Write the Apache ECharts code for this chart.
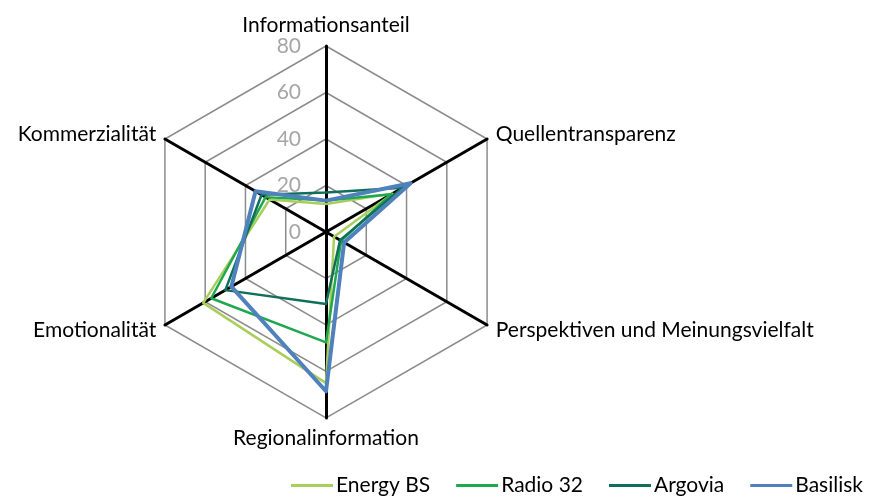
<!DOCTYPE html>
<html>
<head>
<meta charset="utf-8">
<script src="https://cdn.jsdelivr.net/npm/echarts@6/dist/echarts.min.js"></script>
<style>
  html, body { margin: 0; padding: 0; background: #fff; }
  #chart { width: 870px; height: 499px; }
</style>
</head>
<body>
<div id="chart"></div>
<script>
  // indicators in counterclockwise order starting at the top
  const indicators = ['Informationsanteil', 'Kommerzialität', 'Emotionalität',
    'Regionalinformation', 'Perspektiven und Meinungsvielfalt', 'Quellentransparenz']
  const seriesNames = ['Energy BS', 'Radio 32', 'Argovia', 'Basilisk']
  const energyBS = [12, 28, 61, 65, 4, 33]
  const radio32 = [13.5, 30, 57, 47.5, 7.5, 32.5]
  const argovia = [17, 32, 50, 31, 7, 38]
  const basilisk = [13.5, 35, 47, 68.5, 9, 42]
  const colors = ['#a9cf5a', '#1fa84f', '#0f6f58', '#4f81bd']
  const widths = [2.5, 2.5, 2.5, 4]

  const FONT = 'Lato, "Open Sans", sans-serif'
  const center = [326, 232]
  const radius = 186

  const chart = echarts.init(document.getElementById('chart'))
  const values = [energyBS, radio32, argovia, basilisk]

  chart.setOption({
    animation: false,
    textStyle: { fontFamily: FONT },
    legend: {
      data: seriesNames,
      right: 2,
      bottom: -2,
      icon: 'rect',
      itemWidth: 42,
      itemHeight: 3,
      itemGap: 26,
      textStyle: { fontFamily: FONT, fontSize: 21, color: '#000', padding: [0, 0, 0, -2] }
    },
    polar: { center: center, radius: radius },
    angleAxis: { show: false, min: 0, max: 360 },
    radiusAxis: {
      min: 0,
      max: 80,
      interval: 20,
      axisLine: { show: false },
      axisTick: { show: false },
      splitLine: { show: false },
      axisLabel: { color: '#a6a6a6', fontSize: 21, fontFamily: FONT, margin: 25 }
    },
    radar: {
      center: center,
      radius: radius,
      shape: 'polygon',
      splitNumber: 4,
      startAngle: 90,
      indicator: indicators.map(n => ({ name: n, min: 0, max: 80 })),
      axisName: { color: '#000', fontSize: 21, fontFamily: FONT },
      nameGap: 10,
      axisLine: { lineStyle: { color: '#000', width: 3 } },
      splitLine: { lineStyle: { color: '#8c8c8c', width: 1.5 } },
      splitArea: { show: false }
    },
    series: [{
      type: 'radar',
      symbol: 'none',
      data: values.map((v, i) => ({
        name: seriesNames[i],
        value: v,
        itemStyle: { color: colors[i] },
        lineStyle: { color: colors[i], width: widths[i] }
      }))
    }]
  })
</script>
</body>
</html>
